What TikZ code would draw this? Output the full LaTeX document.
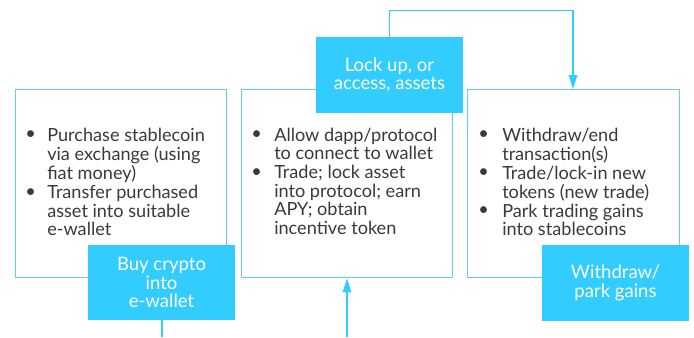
\documentclass[tikz,border=0pt]{standalone}
\usepackage{fontspec}
\setmainfont{Lato}
\usetikzlibrary{arrows.meta}
\definecolor{edgeblue}{HTML}{66CCF0}
\definecolor{tagblue}{HTML}{33CCFF}
\definecolor{bodytext}{HTML}{3A3A3A}
\tikzset{
  stagebox/.style={draw=edgeblue, line width=1.1pt, fill=white},
  tagbox/.style={fill=tagblue, text=white, align=center, inner sep=0pt,
    font=\fontsize{13.9}{13.8}\selectfont},
  points/.style={anchor=base west, inner sep=0pt, text=bodytext,
    font=\fontsize{13.6}{13.6}\selectfont
      \setbox\strutbox\hbox{\vrule height 9.6pt depth 4pt width 0pt}},
  flow/.style={draw=tagblue, line width=1pt},
  flowarrow/.style={flow, -{Triangle[length=10.5pt, width=6.5pt]}},
}
\newcommand{\bul}{\raisebox{0.15ex}{\textbullet}}
\begin{document}
\begin{tikzpicture}[x=0.75pt, y=-0.75pt]
\useasboundingbox (0,0) rectangle (694,337);

% three stage boxes
\node[stagebox, minimum width=211*0.75pt, minimum height=188*0.75pt, anchor=north west] (buy) at (14.5,89) {};
\node[stagebox, minimum width=211*0.75pt, minimum height=188*0.75pt, anchor=north west] (lock) at (241,89) {};
\node[stagebox, minimum width=212*0.75pt, minimum height=188*0.75pt, anchor=north west] (park) at (467,89) {};

% bullet lists
\node[points] (buytxt) at (25,141) {\begin{tabular}[t]{@{}p{16.5pt}@{}l@{}}
\bul & Purchase stablecoin\\
 & via exchange (using\\
 & fiat money)\\
\bul & Transfer purchased\\
 & asset into suitable\\
 & e-wallet
\end{tabular}};
\node[points] (locktxt) at (251,141) {\begin{tabular}[t]{@{}p{17.25pt}@{}l@{}}
\bul & Allow dapp/protocol\\
 & to connect to wallet\\
\bul & Trade; lock asset\\
 & into protocol; earn\\
 & APY; obtain\\
 & incentive token
\end{tabular}};
\node[points] (parktxt) at (478,141) {\begin{tabular}[t]{@{}p{18pt}@{}l@{}}
\bul & Withdraw/end\\
 & transaction(s)\\
\bul & Trade/lock-in new\\
 & tokens (new trade)\\
\bul & Park trading gains\\
 & into stablecoins
\end{tabular}};

% stage labels
\node[tagbox, minimum width=147*0.75pt, minimum height=75*0.75pt] (buytag) at (161.5,282.5) {Buy crypto\\into\\e-wallet};
\node[tagbox, minimum width=147*0.75pt, minimum height=76*0.75pt] (locktag) at (389.5,75) {Lock up, or\\access, assets};
\node[tagbox, minimum width=147*0.75pt, minimum height=76*0.75pt] (parktag) at (615.5,283) {Withdraw/\\park gains};

% connectors
\coordinate (buyout) at (162,337);
\coordinate (lockin) at (347,337);
\draw[flow] (buytag.south -| buyout) -- (buyout);
\draw[flowarrow] (lockin) -- (lockin |- lock.south);
\draw[flowarrow] (locktag.north) -- ++(0,-26) -| ([xshift=106*0.75pt]park.north west);
\end{tikzpicture}
\end{document}
